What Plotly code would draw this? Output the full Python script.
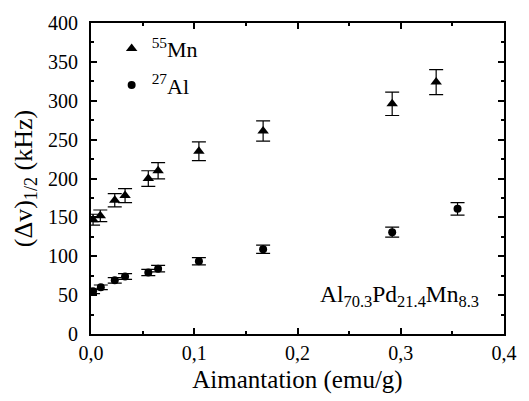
import plotly.graph_objects as go

mn_x = [0.002, 0.009, 0.023, 0.033, 0.0555, 0.065, 0.1045, 0.1667, 0.2917, 0.3343]
mn_y = [147, 152, 172, 178, 200, 210, 235, 261, 296, 324]
mn_err = [7, 7.5, 8.6, 9, 10, 10.5, 12, 13, 15, 16]

al_x = [0.002, 0.0095, 0.023, 0.033, 0.0555, 0.065, 0.1045, 0.1667, 0.2917, 0.355]
al_y = [55, 60, 69, 74, 79, 84, 93.5, 109, 131, 161]
al_err = [3, 3, 3.5, 3.7, 4, 4.2, 4.7, 5.4, 6.5, 8]

FONT = "Times New Roman, Liberation Serif, serif"

fig = go.Figure()
fig.add_trace(go.Scatter(
    x=mn_x, y=mn_y, mode="markers", name="<sup>55</sup>Mn", legendgroup="mn",
    marker=dict(symbol="triangle-up", size=10, color="black"),
    error_y=dict(type="data", array=mn_err, visible=True, color="black", thickness=1.2, width=7),
))
fig.add_trace(go.Scatter(
    x=al_x, y=al_y, mode="markers", name="<sup>27</sup>Al", legendgroup="al",
    marker=dict(symbol="circle", size=8, color="black"),
    error_y=dict(type="data", array=al_err, visible=True, color="black", thickness=1.2, width=7),
))

axis_common = dict(
    showline=True, linecolor="black", linewidth=2, mirror="allticks",
    ticks="inside", ticklen=6, tickwidth=1.5, tickcolor="black",
    showgrid=False, zeroline=False,
    tickfont=dict(family=FONT, size=20, color="black"),
)

fig.update_xaxes(
    range=[0, 0.4], dtick=0.1, tick0=0, tickformat=".1f",
    minor=dict(ticks="inside", ticklen=3, dtick=0.05, tickcolor="black", tickwidth=1.5),
    title=dict(text="Aimantation (emu/g)", font=dict(family=FONT, size=25, color="black"), standoff=7),
    **axis_common,
)
fig.update_yaxes(
    range=[0, 400], dtick=50, tick0=0, ticklabelstandoff=7,
    minor=dict(ticks="inside", ticklen=3, dtick=25, tickcolor="black", tickwidth=1.5),
    title=dict(text="(Δv)<sub>1/2</sub> (kHz)", font=dict(family=FONT, size=26, color="black"), standoff=8),
    **axis_common,
)

fig.add_annotation(
    x=0.945, y=0.122, xref="paper", yref="paper", xanchor="right", yanchor="middle",
    text="Al<sub>70.3</sub>Pd<sub>21.4</sub>Mn<sub>8.3</sub>", showarrow=False,
    font=dict(family=FONT, size=23.5, color="black"),
)

fig.update_layout(
    width=529, height=401,
    margin=dict(l=91, r=18, t=19, b=64),
    paper_bgcolor="white", plot_bgcolor="white",
    separators=",.",
    showlegend=True,
    legend=dict(x=0.05, y=0.985, xanchor="left", yanchor="top",
                font=dict(family=FONT, size=22, color="black"),
                bgcolor="rgba(0,0,0,0)", tracegroupgap=5),
    font=dict(family=FONT, color="black"),
)

fig.write_html("out.html", config={"displayModeBar": False},
               post_script="document.body.style.margin='0';document.body.style.overflow='hidden';")
